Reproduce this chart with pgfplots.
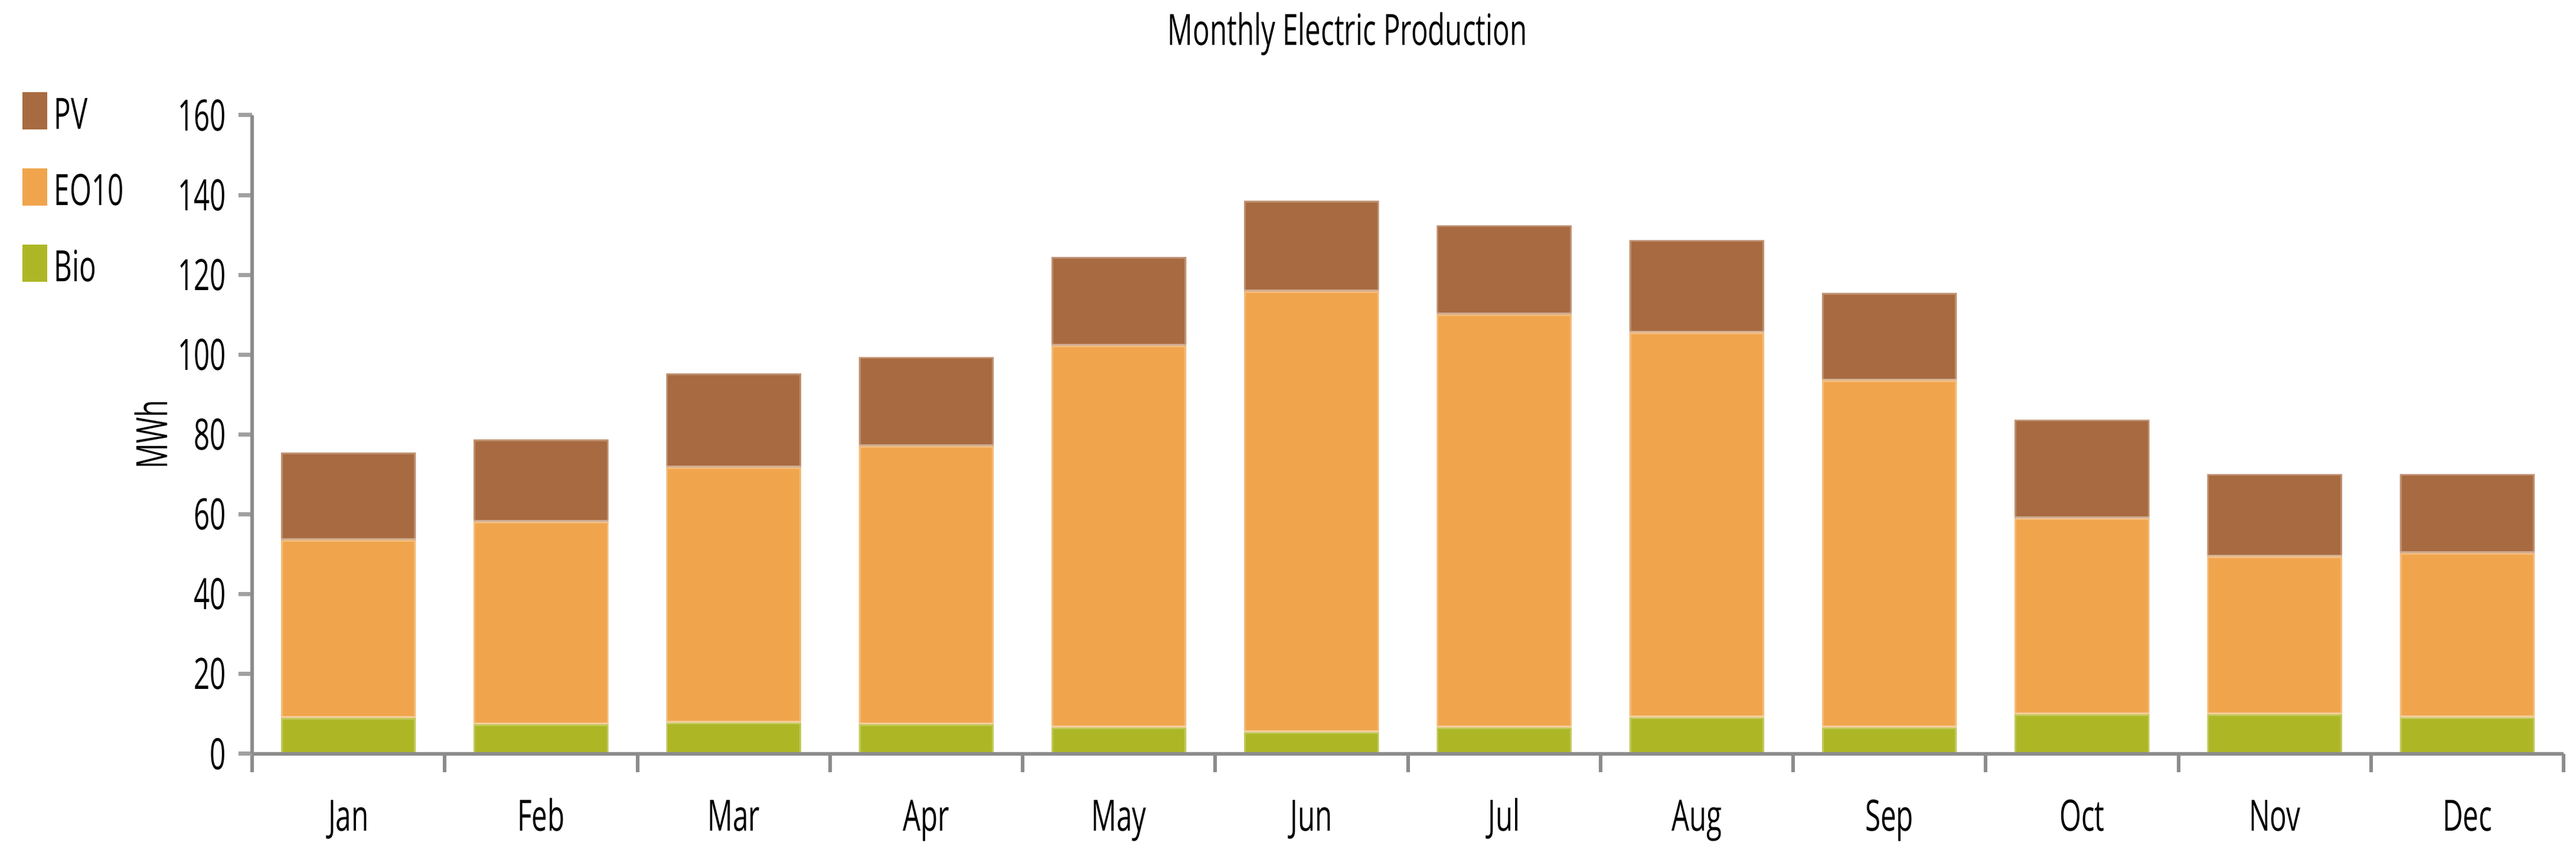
\documentclass[border=0pt]{standalone}
\usepackage{fontspec}
\setmainfont{Open Sans}[FakeStretch=0.65]
\usepackage{pgfplots}
\pgfplotsset{compat=1.18}
\usepackage{pgfplotstable}

\definecolor{pv}{RGB}{168,106,64}
\definecolor{eo}{RGB}{240,165,77}
\definecolor{bio}{RGB}{173,183,38}
\definecolor{axgray}{RGB}{140,140,140}
\definecolor{tkgray}{RGB}{160,160,160}

\pgfplotstableread{
x Bio EO PV
0 9.0 44.6 21.9
1 7.4 50.7 20.7
2 7.8 64.0 23.5
3 7.4 69.7 22.3
4 6.6 95.7 22.2
5 5.4 110.5 22.7
6 6.6 103.5 22.3
7 9.1 96.5 23.1
8 6.6 87.0 21.9
9 9.9 49.1 24.7
10 9.9 39.6 20.6
11 9.1 41.2 19.8
}\data

\begin{document}
\fontsize{7.3pt}{8.8pt}\selectfont
\begin{tikzpicture}
\useasboundingbox (-42.7pt,-18.3pt) rectangle (393.6pt,127.6pt);
\begin{axis}[
  at={(0pt,0pt)}, anchor=south west,
  scale only axis, width=391.5pt, height=108.1pt,
  ybar stacked, bar width=0.7,
  xmin=-0.5, xmax=11.5, ymin=0, ymax=160,
  xtick={0,...,11},
  xticklabels={Jan,Feb,Mar,Apr,May,Jun,Jul,Aug,Sep,Oct,Nov,Dec},
  minor xtick={-0.5,0.5,...,11.5},
  ytick={0,20,...,160},
  axis x line*=bottom, axis y line*=left,
  axis line style={draw=axgray, line width=0.6pt},
  axis on top,
  tick align=outside,
  major tick length=2.3pt, minor tick length=3.1pt,
  every major x tick/.append style={draw=none},
  every minor x tick/.append style={draw=axgray, line width=0.6pt},
  every major y tick/.append style={draw=tkgray, line width=0.7pt},
  /pgf/number format/assume math mode=true,
  xticklabel style={inner sep=0pt, anchor=base, yshift=-10.8pt},
  yticklabel style={inner sep=0pt, anchor=east, xshift=-1.9pt},
  ylabel={MWh},
  every axis y label/.style={at={(axis description cs:-0.04368,0.5)}, rotate=90, anchor=center, inner sep=0pt},
  title={Monthly Electric Production},
  every axis title/.style={at={(axis description cs:0.4738,1)}, anchor=base, yshift=11.8pt, inner sep=0pt},
  legend style={draw=none, fill=none, at={(axis description cs:0,1)}, anchor=north west,
    xshift=-39.1pt, yshift=4.1pt, inner sep=0pt, row sep=5.5pt,
    nodes={inner sep=0pt, anchor=base west},
    /tikz/every odd column/.append style={column sep=1.2pt}},
  legend cell align=left,
  reverse legend,
  legend image code/.code={\fill[#1, draw=none] (0pt,0pt) rectangle (4.2pt,6.3pt);},
]
\addplot[fill=bio, draw=white, draw opacity=0.25, line width=0.6pt] table[x=x,y=Bio]{\data};
\addplot[fill=eo, draw=white, draw opacity=0.25, line width=0.6pt] table[x=x,y=EO]{\data};
\addplot[fill=pv, draw=white, draw opacity=0.25, line width=0.6pt] table[x=x,y=PV]{\data};
\legend{Bio,EO10,PV}
\end{axis}
\end{tikzpicture}
\end{document}
